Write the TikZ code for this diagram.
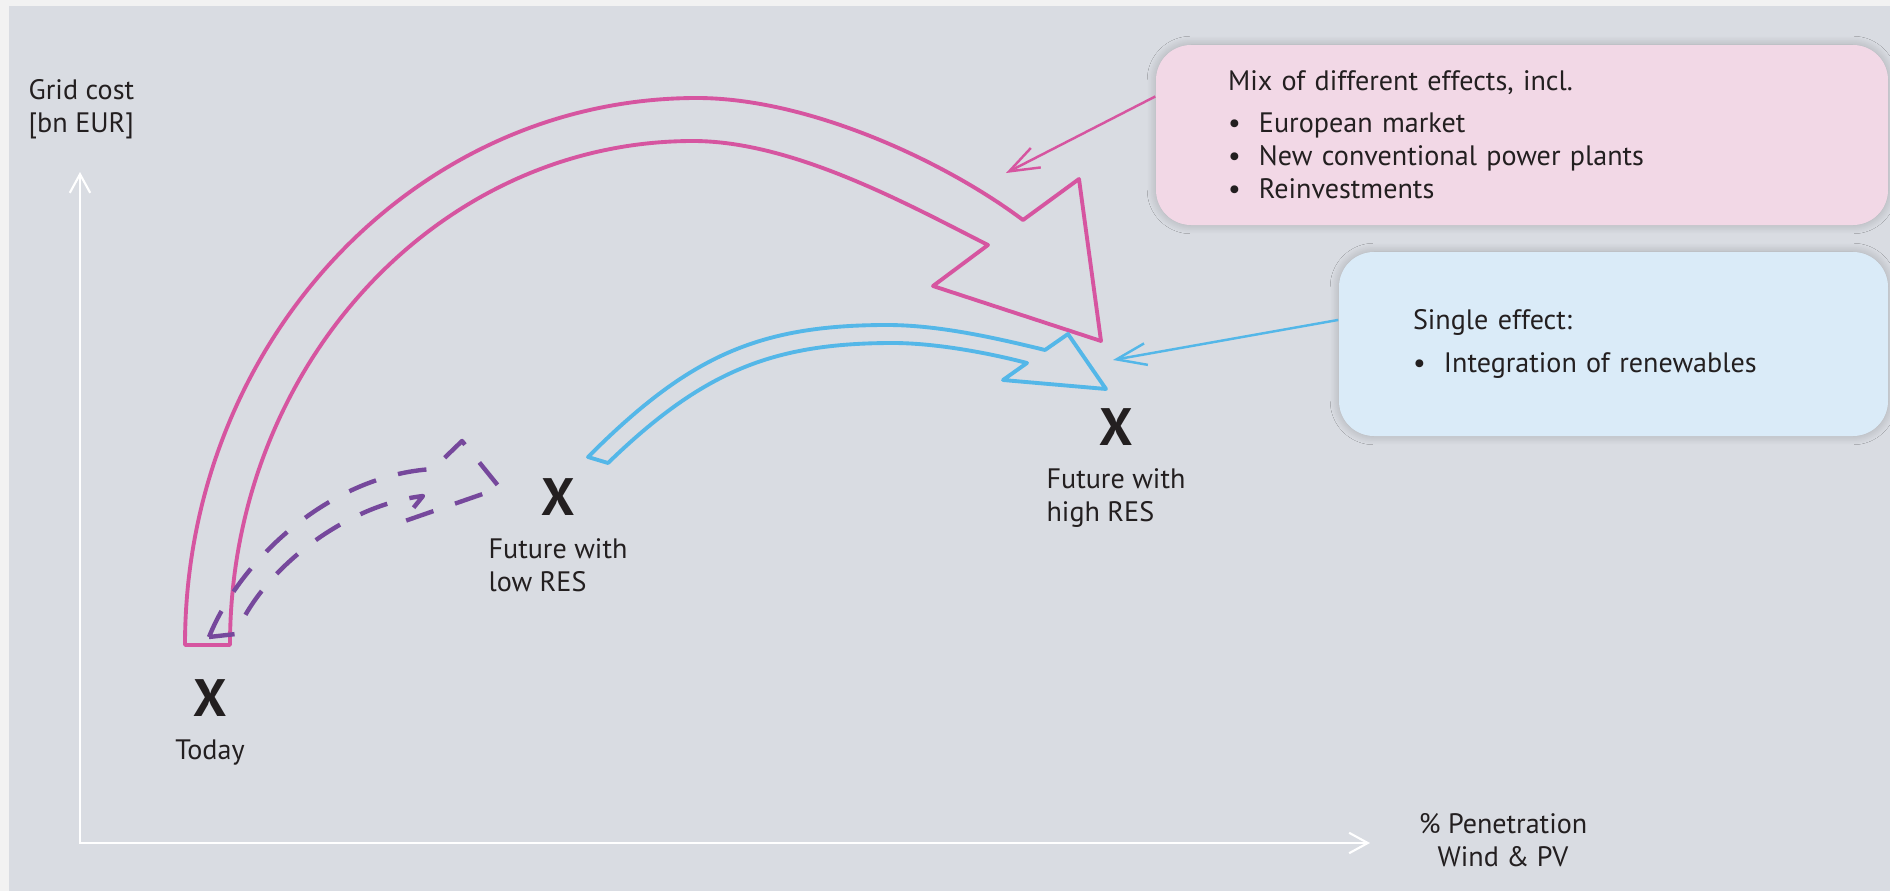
\documentclass[tikz,border=0pt]{standalone}
\usepackage{fontspec}
\setmainfont{PT Sans}
\usepackage{tikz}
\usetikzlibrary{arrows.meta,positioning,shadows.blur}
\definecolor{gridPanel}{RGB}{217,220,226}
\definecolor{gridFrame}{RGB}{242,242,242}
\definecolor{gridPink}{RGB}{214,85,160}
\definecolor{gridBlue}{RGB}{84,183,232}
\definecolor{gridPurple}{RGB}{118,72,156}
\definecolor{gridInk}{RGB}{35,31,32}
\definecolor{mixFill}{RGB}{242,216,230}
\definecolor{resFill}{RGB}{218,235,248}
\newcommand{\lblfont}{\fontsize{8pt}{9.4pt}\selectfont}
\newcommand{\bul}{\makebox[0.31cm][l]{\textbullet}}

\begin{document}
\begin{tikzpicture}[x=1.0cm,y=1.0cm,
  lbl/.style={text=gridInk, font=\lblfont, inner sep=0pt, align=left},
  xmark/.style={text=gridInk, font=\fontsize{15pt}{15pt}\selectfont\bfseries, inner sep=0pt},
  axisline/.style={white, line width=0.6pt, >={Straight Barb[length=5.3pt,width=5.8pt]}, <->},
  effectbox/.style={rounded corners=0.35cm, inner ysep=0pt, align=left, text=gridInk, font=\lblfont,
    blur shadow={shadow xshift=0pt, shadow yshift=0pt, shadow blur radius=2.5pt, shadow blur steps=12, shadow opacity=22}},
  pointer/.style={line width=0.7pt, >={Straight Barb[length=8.5pt,width=6.2pt]}, ->},
  band/.style={line width=1.1pt, line join=round}]
\useasboundingbox (0,0) rectangle (18.9,8.91);
\fill[gridFrame] (0,0) rectangle (18.9,8.91);
\fill[gridPanel] (0.09,0) rectangle (18.9,8.85);

\coordinate (orig) at (0.80,0.48);
\coordinate (ytop) at (0.80,7.19);
\coordinate (xend) at (13.70,0.48);
\draw[axisline] (ytop) -- (orig) -- (xend);
\node[lbl, anchor=north west] (ylbl) at (0.28,8.12) {Grid cost\\{}[bn EUR]};
\node[lbl, anchor=north, align=center] (xlbl) at (15.03,0.78) {\% Penetration\\Wind \& PV};

\draw[band, gridPink] (1.85,2.46) .. controls (1.85,5.48) and (4.14,7.93) .. (6.97,7.93)
  .. controls (8.07,7.93) and (9.43,7.31) .. (10.23,6.71) -- (10.79,7.12) -- (11.01,5.50)
  -- (9.33,6.05) -- (9.88,6.46) .. controls (9.08,6.865) and (7.93,7.50) .. (6.93,7.50)
  .. controls (4.37,7.50) and (2.30,5.24) .. (2.30,2.46) -- cycle;
\draw[band, gridBlue] (5.88,4.34) .. controls (6.88,5.34) and (7.57,5.66) .. (8.87,5.66)
  .. controls (9.37,5.66) and (9.92,5.54) .. (10.45,5.41) -- (10.68,5.57) -- (11.06,5.02)
  -- (10.03,5.11) -- (10.27,5.28) .. controls (9.85,5.39) and (9.33,5.48) .. (8.93,5.48)
  .. controls (7.73,5.48) and (7.03,5.20) .. (6.08,4.28) -- cycle;
\draw[band, gridPurple, line width=1.25pt, dash pattern=on 8.2pt off 6.5pt]
  (2.09,2.54) .. controls (2.40,3.31) and (3.30,4.16) .. (4.33,4.22) -- (4.62,4.50)
  -- (5.00,4.03) -- (4.02,3.69) -- (4.23,3.95) .. controls (3.45,3.86) and (2.62,3.21) .. (2.36,2.57) -- cycle;

\node[xmark] (today) at (2.10,1.93) {X};
\node[lbl, below=0.22cm of today] (todaylbl) {Today};
\node[xmark] (lowres) at (5.58,3.94) {X};
\node[lbl, below=0.22cm of lowres] (lowlbl) {Future with\\low RES};
\node[xmark] (highres) at (11.16,4.64) {X};
\node[lbl, below=0.22cm of highres] (highlbl) {Future with\\high RES};

\node[effectbox, fill=mixFill, inner xsep=0.72cm, text width=5.88cm, minimum height=1.80cm] (mixbox) at (15.22,7.56)
  {Mix of different effects, incl.\\[2.5pt]\bul European market\\\bul New conventional power plants\\\bul Reinvestments};
\node[effectbox, fill=resFill, inner xsep=0.74cm, text width=4.01cm, minimum height=1.84cm] (resbox) at (16.135,5.47)
  {Single effect:\\[2.8pt]\bul Integration of renewables};

\coordinate (mixtip) at (10.06,7.18);
\coordinate (restip) at (11.13,5.31);
\draw[pointer, gridPink] (mixbox.174) -- (mixtip);
\draw[pointer, gridBlue] (resbox.175) -- (restip);
\end{tikzpicture}
\end{document}
